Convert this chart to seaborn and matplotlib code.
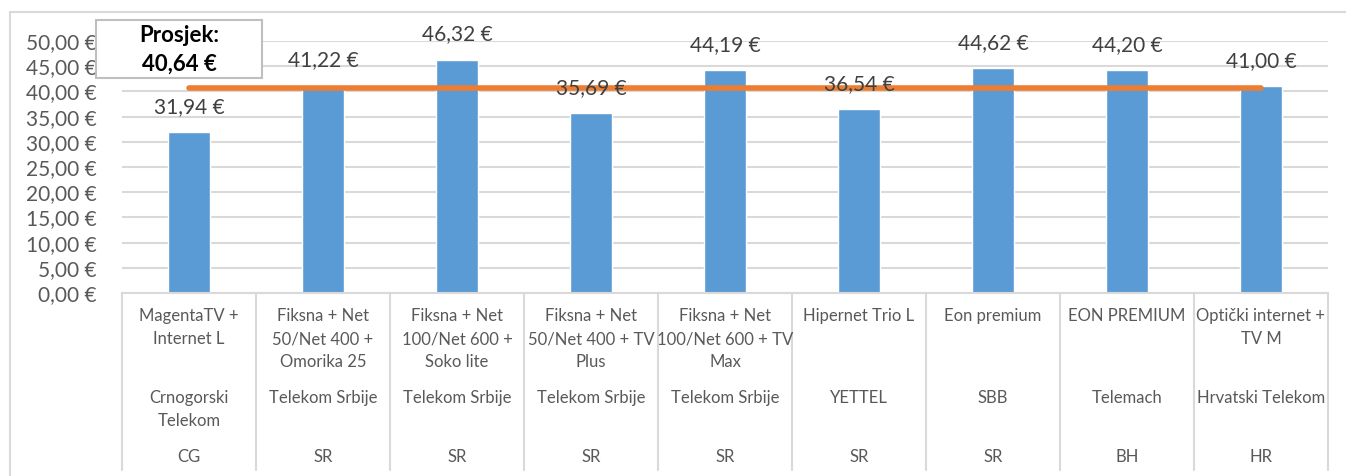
import numpy as np
import pandas as pd
import matplotlib
matplotlib.use("Agg")
import matplotlib.pyplot as plt
import matplotlib.transforms as mtransforms
from matplotlib.patches import Rectangle
import seaborn as sns

products = ["MagentaTV +\nInternet L", "Fiksna + Net\n50/Net 400 +\nOmorika 25",
            "Fiksna + Net\n100/Net 600 +\nSoko lite", "Fiksna + Net\n50/Net 400 + TV\nPlus",
            "Fiksna + Net\n100/Net 600 + TV\nMax", "Hipernet Trio L", "Eon premium",
            "EON PREMIUM", "Optički internet +\nTV M"]
providers = ["Crnogorski\nTelekom", "Telekom Srbije", "Telekom Srbije", "Telekom Srbije",
             "Telekom Srbije", "YETTEL", "SBB", "Telemach", "Hrvatski Telekom"]
countries = ["CG", "SR", "SR", "SR", "SR", "SR", "SR", "BH", "HR"]
prices = [31.94, 41.22, 46.32, 35.69, 44.19, 36.54, 44.62, 44.20, 41.00]
yticks = [0, 5, 10, 15, 20, 25, 30, 35, 40, 45, 50]


def eur(v):
    return f"{v:,.2f} €".replace(",", " ").replace(".", ",")


df = pd.DataFrame({"idx": range(len(prices)), "price": prices})
avg = float(np.mean(prices))

sns.set_style("white")
plt.rcParams["font.family"] = ["Lato", "DejaVu Sans"]

W, H = 1346, 476
fig = plt.figure(figsize=(W / 100, H / 100), dpi=100)
ax = fig.add_axes([122 / W, 1 - 293 / H, 1206 / W, 252 / H])

grid_c = "#D9D9D9"
txt_c = "#595959"

# outer chart frame (only left / top visible)
fig.patches.append(Rectangle((10 / W, -0.2), 1.2, 1.2 - 12 / H, transform=fig.transFigure,
                             fill=False, edgecolor=grid_c, linewidth=1.5, zorder=0))

sns.barplot(data=df, x="idx", y="price", color="#5B9BD5", width=0.31, saturation=1,
            ax=ax, zorder=2)
ax.plot(df["idx"], [avg] * len(df), color="#ED7D31", linewidth=4, solid_capstyle="round", zorder=3)

for i, v in enumerate(prices):
    ax.annotate(eur(v), (i, v), xytext=(0, 18), textcoords="offset points", ha="center",
                va="center", fontsize=15, color="#404040", zorder=4)

ax.set_ylim(0, 50)
ax.set_xlim(-0.5, len(prices) - 0.5)
ax.set_yticks(yticks)
ax.set_yticklabels([eur(t) for t in yticks], fontsize=15, color=txt_c)
ax.tick_params(axis="y", length=0, pad=18)
ax.set_xticks([])
ax.set_xlabel("")
ax.set_ylabel("")
ax.yaxis.grid(True, color=grid_c, linewidth=1.5, zorder=0)
ax.set_axisbelow(True)
for s in ["top", "right", "left"]:
    ax.spines[s].set_visible(False)
ax.spines["bottom"].set_color(grid_c)
ax.spines["bottom"].set_linewidth(1.5)

# multi-level category axis
tr = mtransforms.blended_transform_factory(ax.transData, fig.transFigure)
for k in range(len(prices) + 1):
    ax.plot([k - 0.5, k - 0.5], [1 - 293 / H, 1 - 470 / H], color=grid_c, linewidth=1.5,
            transform=tr, clip_on=False)
for i in range(len(prices)):
    ax.text(i, 1 - 308 / H, products[i], transform=tr, ha="center", va="top",
            fontsize=12, color=txt_c, linespacing=1.55)
    ax.text(i, 1 - 390 / H, providers[i], transform=tr, ha="center", va="top",
            fontsize=12, color=txt_c, linespacing=1.55)
    ax.text(i, 1 - 449 / H, countries[i], transform=tr, ha="center", va="top",
            fontsize=12, color=txt_c)

# average box
fig.patches.append(Rectangle((96 / W, 1 - 78 / H), 166 / W, 58 / H, transform=fig.transFigure,
                             facecolor="white", edgecolor="#BFBFBF", linewidth=1.5, zorder=5))
fig.text(179 / W, 1 - 36 / H, "Prosjek:", ha="center", va="center",
         fontsize=16, fontweight="bold", color="black", zorder=6)
fig.text(179 / W, 1 - 64 / H, eur(avg), ha="center", va="center",
         fontsize=16, fontweight="bold", color="black", zorder=6)

fig.savefig("out.png", dpi=100)
